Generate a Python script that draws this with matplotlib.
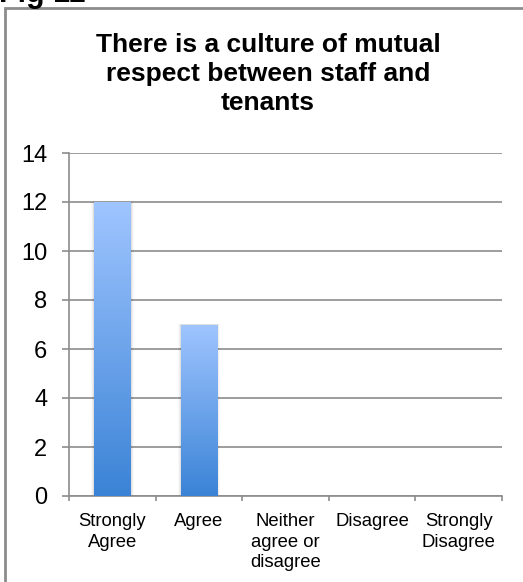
import numpy as np
import matplotlib.pyplot as plt
from matplotlib.colors import LinearSegmentedColormap
from matplotlib.patches import Rectangle

plt.rcParams['font.family'] = ['Liberation Sans', 'DejaVu Sans']

# Survey responses
categories = ['Strongly\nAgree', 'Agree', 'Neither\nagree or\ndisagree',
              'Disagree', 'Strongly\nDisagree']
counts = [12, 7, 0, 0, 0]
yticks = [0, 2, 4, 6, 8, 10, 12, 14]
title = 'There is a culture of mutual\nrespect between staff and\ntenants'

W, H = 523, 582
fig = plt.figure(figsize=(W / 100, H / 100), dpi=100)

# outer chart frame and the figure caption above it (runs off the top)
fig.add_artist(Rectangle((4.5 / W, -0.05), 1.2, (H - 8) / H + 0.05,
                         transform=fig.transFigure, fill=False,
                         edgecolor='#8c8c8c', linewidth=2))
fig.text(-1 / W, 1 - 2 / H, 'Fig 11', fontsize=22, fontweight='bold',
         ha='left', va='baseline')

fig.text(268 / W, 1 - 33 / H, title, fontsize=19, fontweight='bold',
         ha='center', va='top', linespacing=1.25)

ax = fig.add_axes([69 / W, 86 / H, (502 - 69) / W, (496 - 153) / H])
x = np.arange(len(categories))
bar_w = 0.42
bars = ax.bar(x, counts, width=bar_w, color='none', edgecolor='none', zorder=3)

cmap = LinearSegmentedColormap.from_list('bar', ['#3b83d6', '#9fc5ff'])
grad = np.linspace(0, 1, 256).reshape(-1, 1)
for b in bars:
    h = b.get_height()
    if h <= 0:
        continue
    bx = b.get_x()
    # soft drop shadow
    for i, a in enumerate([0.06, 0.04, 0.025]):
        d = 0.012 * (i + 1)
        ax.add_patch(Rectangle((bx - d, 0), bar_w + 2 * d, h + d * 0.6,
                               facecolor='black', alpha=a, edgecolor='none',
                               zorder=2))
    im = ax.imshow(grad, cmap=cmap, origin='lower', aspect='auto',
                   extent=[bx, bx + bar_w, 0, h], zorder=3)
    im.set_clip_path(b)

ax.set_xlim(-0.5, len(categories) - 0.5)
ax.set_ylim(0, 14)
ax.set_yticks(yticks)
ax.set_yticklabels([str(v) for v in yticks], fontsize=17)
ax.grid(axis='y', color='#8c8c8c', linewidth=1.2, zorder=1)
ax.set_axisbelow(True)

ax.set_xticks(x)
ax.set_xticklabels(categories, fontsize=13.3, linespacing=1.3)
ax.set_xticks(np.arange(-0.5, len(categories)), minor=True)
ax.tick_params(axis='x', which='major', length=0, pad=12)
ax.tick_params(axis='x', which='minor', length=3.6, width=1.2, color='#8c8c8c',
               direction='out')
ax.tick_params(axis='y', length=5, width=1.2, color='#8c8c8c', pad=10.5)

for s in ['top', 'right']:
    ax.spines[s].set_visible(False)
for s in ['left', 'bottom']:
    ax.spines[s].set_color('#8c8c8c')
    ax.spines[s].set_linewidth(1.2)

fig.savefig('out.png', dpi=100)
